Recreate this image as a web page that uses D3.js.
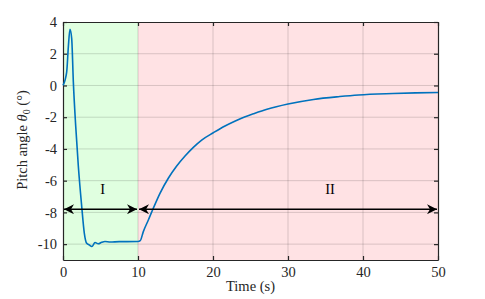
<!DOCTYPE html>
<html>
<head>
<meta charset="utf-8">
<script src="https://cdn.jsdelivr.net/npm/d3@7"></script>
<style>
  body { margin: 0; background: #fff; }
  svg text { font-family: "Liberation Serif", "Times New Roman", serif; }
</style>
</head>
<body>
<svg id="chart" width="485" height="299"></svg>
<script>
// pitch response
const timeS = [0, 0.49, 0.71, 0.93, 1.16, 1.38, 1.69, 2.04, 2.49, 2.84, 3.16, 3.5, 3.85, 4.27, 4.7, 5.16, 5.6, 6.3, 7.5, 8.5, 10, 10.3,
  10.71, 11.38, 12.04, 12.93, 14.04, 15.16, 16.27, 17.38, 18.49, 20.04, 21.6, 22.9, 24.2, 25.4, 27.2, 30, 33.4, 36.9, 39.4, 44, 47, 50];
const pitch = [0, 0.84, 2.42, 3.54, 2.95, 0.21, -2.53, -5.06, -7.6, -9.3, -9.95, -10.05, -10.15, -9.9, -9.98, -9.88, -9.83, -9.87, -9.84, -9.84, -9.83, -9.78,
  -9.21, -8.48, -7.74, -6.8, -5.85, -5.08, -4.45, -3.9, -3.44, -2.98, -2.55, -2.25, -1.98, -1.78, -1.5, -1.17, -0.88, -0.7, -0.6, -0.51, -0.47, -0.44];

const regions = [
  { name: 'I', from: 0, to: 10, fill: '#e0ffe0', labelX: 5.3 },
  { name: 'II', from: 10, to: 50, fill: '#ffe2e4', labelX: 35.6 }
];
const arrowY = -7.8;
const labelY = -6.85;
const xTicks = [0, 10, 20, 30, 40, 50];
const yTicks = [-10, -8, -6, -4, -2, 0, 2, 4];

const FONT = '"Liberation Serif", "Times New Roman", serif';
const FS = 14.5;
const svg = d3.select('#chart');
const x = d3.scaleLinear().domain([0, 50]).range([63, 438]);
const y = d3.scaleLinear().domain([-11, 4]).range([260, 22]);

// region backgrounds
svg.append('g').selectAll('rect')
  .data(regions)
  .join('rect')
  .attr('x', d => x(d.from))
  .attr('width', d => x(d.to) - x(d.from))
  .attr('y', y(4))
  .attr('height', y(-11) - y(4))
  .attr('fill', d => d.fill);

// grid
const grid = svg.append('g').attr('stroke', '#000').attr('stroke-opacity', 0.15).attr('stroke-width', 1);
grid.selectAll('line.gx').data(xTicks.slice(1, -1)).join('line')
  .attr('x1', d => x(d)).attr('x2', d => x(d))
  .attr('y1', y(4)).attr('y2', y(-11));
grid.selectAll('line.gy').data(yTicks.slice(0, -1)).join('line')
  .attr('y1', d => y(d)).attr('y2', d => y(d))
  .attr('x1', x(0)).attr('x2', x(50));

// axes with inward ticks on all sides
const tickColor = '#262626';
const axisB = svg.append('g').attr('transform', `translate(0,${y(-11)})`)
  .call(d3.axisBottom(x).tickValues(xTicks).tickSizeInner(-4).tickSizeOuter(0).tickPadding(7));
const axisL = svg.append('g').attr('transform', `translate(${x(0)},0)`)
  .call(d3.axisLeft(y).tickValues(yTicks).tickSizeInner(-4).tickSizeOuter(0).tickPadding(6)
    .tickFormat(d => d < 0 ? '-' + Math.abs(d) : d));
const axisT = svg.append('g').attr('transform', `translate(0,${y(4)})`)
  .call(d3.axisTop(x).tickValues(xTicks).tickSizeInner(-4).tickSizeOuter(0).tickFormat(''));
const axisR = svg.append('g').attr('transform', `translate(${x(50)},0)`)
  .call(d3.axisRight(y).tickValues(yTicks).tickSizeInner(-4).tickSizeOuter(0).tickFormat(''));
[axisB, axisL, axisT, axisR].forEach(a => {
  a.attr('font-family', FONT).attr('font-size', FS);
  a.select('.domain').attr('stroke', tickColor).attr('stroke-width', 1.2);
  a.selectAll('.tick line').attr('stroke', tickColor).attr('stroke-width', 1.2);
  a.selectAll('.tick text').attr('fill', '#262626');
});

// response curve
const line = d3.line().x((d, i) => x(timeS[i])).y(d => y(d)).curve(d3.curveMonotoneX);
svg.append('path')
  .datum(pitch)
  .attr('d', line)
  .attr('fill', 'none')
  .attr('stroke', '#0072bd')
  .attr('stroke-width', 1.6);

// double arrows marking the regions
const defs = svg.append('defs');
defs.append('marker').attr('id', 'head')
  .attr('viewBox', '0 0 10 10').attr('refX', 10).attr('refY', 5)
  .attr('markerWidth', 10).attr('markerHeight', 10).attr('markerUnits', 'userSpaceOnUse')
  .attr('orient', 'auto-start-reverse')
  .append('path').attr('d', 'M0,0 L10,5 L0,10 L3,5 Z').attr('fill', '#000');

svg.append('g').selectAll('line')
  .data(regions)
  .join('line')
  .attr('x1', d => x(d.from) + 1).attr('x2', d => x(d.to) - 1)
  .attr('y1', y(arrowY)).attr('y2', y(arrowY))
  .attr('stroke', '#000').attr('stroke-width', 1.5)
  .attr('marker-start', 'url(#head)').attr('marker-end', 'url(#head)');

svg.append('g').selectAll('text')
  .data(regions)
  .join('text')
  .attr('x', d => x(d.labelX)).attr('y', y(labelY))
  .attr('text-anchor', 'middle')
  .attr('font-family', FONT)
  .attr('font-size', FS)
  .attr('fill', '#000')
  .text(d => d.name);

// axis titles
svg.append('text')
  .attr('x', x(25)).attr('y', 291)
  .attr('text-anchor', 'middle').attr('font-family', FONT).attr('font-size', FS).attr('fill', '#262626')
  .text('Time (s)');

const yl = svg.append('text')
  .attr('transform', `translate(27,140) rotate(-90)`)
  .attr('text-anchor', 'middle').attr('font-family', FONT).attr('font-size', FS).attr('fill', '#262626');
yl.append('tspan').text('Pitch angle ');
yl.append('tspan').attr('font-style', 'italic').text('θ');
yl.append('tspan').attr('font-size', 10).attr('dy', 3).text('0');
yl.append('tspan').attr('dy', -3).text(' (°)');
</script>
</body>
</html>
